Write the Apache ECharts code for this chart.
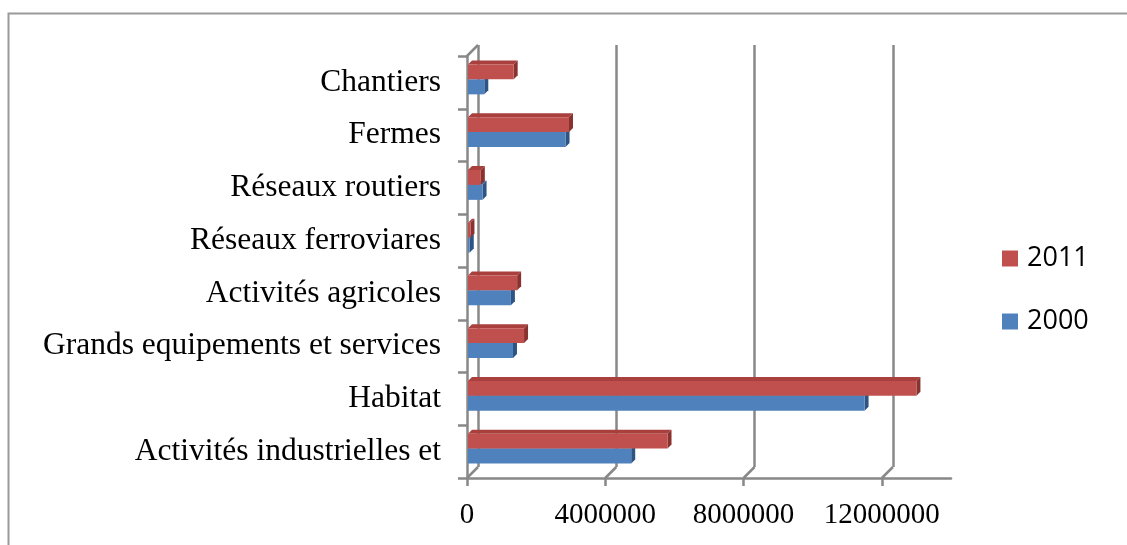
<!DOCTYPE html>
<html>
<head>
<meta charset="utf-8">
<script src="https://cdn.jsdelivr.net/npm/echarts@6/dist/echarts.min.js"></script>
<style>
  html, body { margin: 0; padding: 0; background: #ffffff; }
  #chart { width: 1127px; height: 545px; }
</style>
</head>
<body>
<div id="chart"></div>
<script>
// Categories listed bottom-to-top (ECharts category y axis runs upward)
const categories = [
  'Activités industrielles et',
  'Habitat',
  'Grands equipements et services',
  'Activités agricoles',
  'Réseaux ferroviares',
  'Réseaux routiers',
  'Fermes',
  'Chantiers'
];
const values2011 = [5800000, 13000000, 1650000, 1450000, 100000, 400000, 2950000, 1350000];
const values2000 = [4750000, 11500000, 1330000, 1270000, 80000, 450000, 2850000, 500000];
const tickValues = [0, 4000000, 8000000, 12000000];
const axisMax = 14000000;

const GRID_LEFT = 467, GRID_TOP = 56, GRID_W = 484, GRID_H = 422;
const DEPTH = 11;      // back-wall offset
const BAR_DEPTH = 4;   // bar 3D depth
const lineColor = '#888888';

function bar3D(frontColor, topColor, sideColor, offTop, offBot) {
  return function (params, api) {
    const v = api.value(0), c = api.value(1);
    const p0 = api.coord([0, c]);
    const p1 = api.coord([v, c]);
    const band = api.size([0, 1])[1];
    const yTop = p0[1] + offTop * band;
    const yBot = p0[1] + offBot * band;
    const x0 = p0[0] + 1, x1 = p1[0];
    const d = BAR_DEPTH;
    return {
      type: 'group',
      children: [
        { type: 'polygon', shape: { points: [[x0, yTop], [x0 + d, yTop - d], [x1 + d, yTop - d], [x1, yTop]] },
          style: { fill: topColor } },
        { type: 'polygon', shape: { points: [[x1, yTop], [x1 + d, yTop - d], [x1 + d, yBot - d], [x1, yBot]] },
          style: { fill: sideColor } },
        { type: 'rect', shape: { x: x0, y: yTop, width: Math.max(x1 - x0, 0), height: yBot - yTop },
          style: { fill: frontColor } }
      ]
    };
  };
}

const chart = echarts.init(document.getElementById('chart'), null, { renderer: 'canvas' });

const option = {
  backgroundColor: '#ffffff',
  animation: false,
  graphic: [
    { type: 'rect', shape: { x: 8.5, y: 13.5, width: 1300, height: 700 },
      style: { fill: 'none', stroke: '#9a9a9a', lineWidth: 2 }, silent: true, z: -10 }
  ],
  legend: {
    orient: 'vertical',
    left: 997,
    top: 240,
    itemWidth: 16,
    itemHeight: 16,
    itemGap: 36,
    icon: 'rect',
    data: ['2011', '2000'],
    textStyle: { fontFamily: 'Open Sans', fontSize: 27, color: '#000', lineHeight: 26, padding: [0, 0, 0, 4] }
  },
  grid: [
    { left: GRID_LEFT, top: GRID_TOP, width: GRID_W, height: GRID_H },
    { left: GRID_LEFT + DEPTH, top: GRID_TOP - DEPTH, width: GRID_W, height: GRID_H }
  ],
  xAxis: [
    {
      type: 'value', gridIndex: 0, min: 0, max: axisMax, interval: 4000000,
      axisLine: { show: true, lineStyle: { color: lineColor, width: 2.5 } },
      axisTick: { show: true, length: 8, lineStyle: { color: lineColor, width: 2.5 }, customValues: tickValues },
      axisLabel: { fontFamily: 'Liberation Serif', fontSize: 29, color: '#000', margin: 23,
                   customValues: tickValues, formatter: function (v) { return String(v); } },
      splitLine: { show: false }
    },
    {
      type: 'value', gridIndex: 1, min: 0, max: axisMax, interval: 4000000,
      axisLine: { show: false }, axisTick: { show: false, customValues: tickValues },
      axisLabel: { show: false, customValues: tickValues },
      splitLine: { show: true, lineStyle: { color: lineColor, width: 2.5 } }
    }
  ],
  yAxis: [
    {
      type: 'category', gridIndex: 0, data: categories,
      axisLine: { show: true, lineStyle: { color: lineColor, width: 2.5 } },
      axisTick: { show: true, length: 9, lineStyle: { color: lineColor, width: 2.5 } },
      axisLabel: { fontFamily: 'Liberation Serif', fontSize: 31.5, color: '#000', margin: 26,
                   padding: [7, 0, 0, 0] },
      splitLine: { show: false }
    },
    {
      type: 'category', gridIndex: 1, data: categories, show: false
    }
  ],
  series: [
    {
      name: 'wall-edges', type: 'custom', xAxisIndex: 0, yAxisIndex: 0, silent: true, z: 1,
      data: tickValues.map(v => [v, 0]),
      renderItem: function (params, api) {
        const v = api.value(0);
        const cs = params.coordSys;
        const p = api.coord([v, 0]);
        const yb = cs.y + cs.height;
        const children = [
          { type: 'line', shape: { x1: p[0], y1: yb, x2: p[0] + DEPTH, y2: yb - DEPTH },
            style: { stroke: lineColor, lineWidth: 2.5 } }
        ];
        if (v === 0) {
          children.push({ type: 'line', shape: { x1: cs.x, y1: cs.y, x2: cs.x + DEPTH, y2: cs.y - DEPTH },
            style: { stroke: lineColor, lineWidth: 2.5 } });
        }
        return { type: 'group', children: children };
      }
    },
    {
      name: '2011', type: 'custom', xAxisIndex: 0, yAxisIndex: 0, z: 3,
      itemStyle: { color: '#c0504d' },
      data: values2011.map((v, i) => [v, i]),
      encode: { x: 0, y: 1 },
      renderItem: bar3D('#c0504d', '#a9403d', '#8a3230', -0.34, -0.057)
    },
    {
      name: '2000', type: 'custom', xAxisIndex: 0, yAxisIndex: 0, z: 2,
      itemStyle: { color: '#4f81bd' },
      data: values2000.map((v, i) => [v, i]),
      encode: { x: 0, y: 1 },
      renderItem: bar3D('#4f81bd', '#3f6ea8', '#2e5483', -0.057, 0.227)
    }
  ]
};

chart.setOption(option);
</script>
</body>
</html>
